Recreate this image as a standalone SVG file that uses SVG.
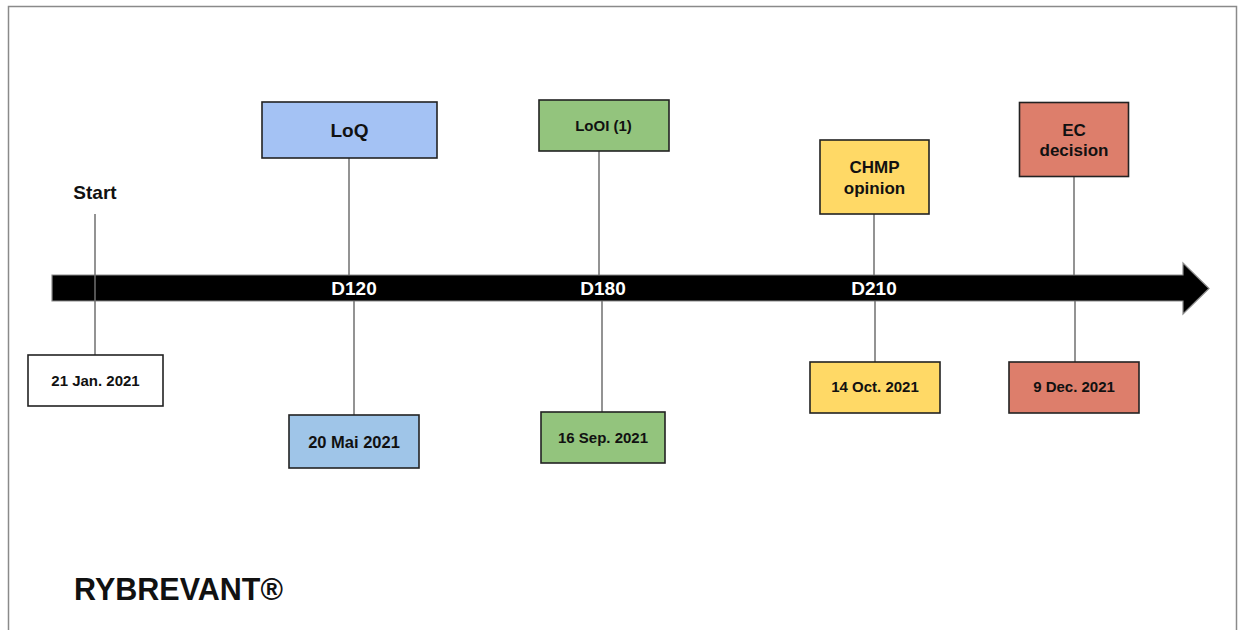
<svg xmlns="http://www.w3.org/2000/svg" width="1238" height="630" viewBox="0 0 1238 630">
  <style>
    text { font-family: "Liberation Sans", Arial, sans-serif; font-weight: bold; fill: #111; text-anchor: middle; }
    .box { stroke: #222; stroke-width: 1.6; }
    .link { stroke: #6f6f6f; stroke-width: 1.5; fill: none; }
    .day { fill: #fff; font-size: 19px; }
    .date { font-size: 15px; }
  </style>
  <rect width="1238" height="630" fill="#fff"/>
  <!-- page frame -->
  <rect x="8.5" y="6.5" width="1228" height="640" fill="none" stroke="#8a8a8a" stroke-width="1.5"/>

  <!-- timeline arrow -->
  <g id="timeline">
    <path d="M52,275 H1183 V263 L1209,288.5 L1183,314 V301 H52 Z" fill="#000" stroke="#8a8a8a" stroke-width="1.2"/>
    <text class="day" x="354" y="295">D120</text>
    <text class="day" x="603" y="295">D180</text>
    <text class="day" x="874" y="295">D210</text>
  </g>

  <!-- connectors between milestones and the timeline -->
  <g id="connectors">
    <line class="link" x1="95" y1="214" x2="95" y2="355"/>
    <line class="link" x1="349" y1="158" x2="349" y2="275"/>
    <line class="link" x1="354" y1="301" x2="354" y2="415"/>
    <line class="link" x1="599" y1="151" x2="599" y2="275"/>
    <line class="link" x1="602" y1="301" x2="602" y2="412"/>
    <line class="link" x1="874" y1="214" x2="874" y2="275"/>
    <line class="link" x1="875" y1="301" x2="875" y2="362"/>
    <line class="link" x1="1074" y1="177" x2="1074" y2="275"/>
    <line class="link" x1="1075" y1="301" x2="1075" y2="362"/>
  </g>

  <g id="start">
    <text x="95" y="199" font-size="19">Start</text>
  </g>
  <g id="date-start">
    <rect class="box" x="28" y="355" width="135" height="51" fill="#fff"/>
    <text class="date" x="95.5" y="386">21 Jan. 2021</text>
  </g>

  <g id="loq">
    <rect class="box" x="262" y="102" width="175" height="56" fill="#a4c2f4"/>
    <text x="349.5" y="137" font-size="19">LoQ</text>
  </g>
  <g id="date-loq">
    <rect class="box" x="289" y="415" width="130" height="53" fill="#9fc5e8"/>
    <text x="354" y="448" font-size="16.5">20 Mai 2021</text>
  </g>

  <g id="looi">
    <rect class="box" x="539" y="100" width="130" height="51" fill="#93c47d"/>
    <text x="603.5" y="131" font-size="15">LoOI (1)</text>
  </g>
  <g id="date-looi">
    <rect class="box" x="541" y="412" width="124" height="51" fill="#93c47d"/>
    <text class="date" x="603" y="443">16 Sep. 2021</text>
  </g>

  <g id="chmp">
    <rect class="box" x="820" y="140" width="109" height="74" fill="#ffd966"/>
    <text x="874.5" y="173" font-size="17">CHMP</text>
    <text x="874.5" y="193.5" font-size="17">opinion</text>
  </g>
  <g id="date-chmp">
    <rect class="box" x="810" y="362" width="130" height="51" fill="#ffd966"/>
    <text class="date" x="875" y="392">14 Oct. 2021</text>
  </g>

  <g id="ec">
    <rect class="box" x="1019.5" y="102.5" width="109" height="74" fill="#dd7e6b"/>
    <text x="1074" y="136" font-size="17">EC</text>
    <text x="1074" y="156" font-size="17">decision</text>
  </g>
  <g id="date-ec">
    <rect class="box" x="1009" y="362" width="130" height="51" fill="#dd7e6b"/>
    <text class="date" x="1074" y="392">9 Dec. 2021</text>
  </g>

  <g id="title">
    <text x="74" y="600" font-size="30.5" style="text-anchor:start">RYBREVANT®</text>
  </g>
</svg>
